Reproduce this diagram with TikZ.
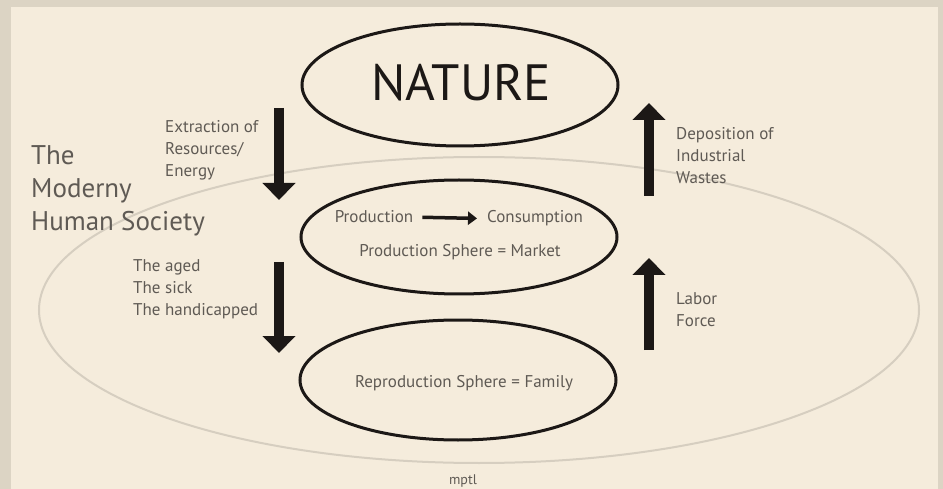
\documentclass[tikz,border=0pt]{standalone}
\usepackage{fontspec}
\setmainfont{PT Sans}
\usepackage{xcolor}
\usetikzlibrary{positioning, arrows.meta, shapes}

\definecolor{frame}{RGB}{220,212,196}
\definecolor{paper}{RGB}{245,236,220}
\definecolor{ink}{RGB}{28,24,22}
\definecolor{grey}{RGB}{95,90,84}
\definecolor{rim}{RGB}{214,206,192}

\begin{document}
\begin{tikzpicture}[x=1pt, y=-1pt,
    sphere/.style={draw=ink, line width=3pt, ellipse, inner sep=0pt, minimum width=316pt},
    lbl/.style={text=grey, inner sep=0pt, align=left, anchor=north west, font=\fontsize{17}{22}\selectfont},
    txt/.style={text=grey, inner sep=0pt, anchor=base, font=\fontsize{17}{20}\selectfont},
    flow/.style={draw=ink, line width=10pt, -{Triangle[length=17pt, width=32pt]}}]
    % Background
    \fill[frame] (0,0) rectangle (943,489);
    \fill[paper] (11,7) rectangle (938,489);
    \useasboundingbox (0,0) rectangle (943,489);

    % Society ring
    \node[draw=rim, line width=2pt, ellipse, minimum width=880pt, minimum height=306pt] (society) at (479,310) {};

    % Spheres
    \node[sphere, minimum height=122pt] (nature) at (460,85) {};
    \node[sphere, minimum height=114pt] (market) at (459,237) {};
    \node[sphere, minimum height=120pt] (family) at (458,380) {};

    \node[text=ink, inner sep=0pt, anchor=base, font=\fontsize{51}{54}\selectfont] (naturetext) at (461,101) {NATURE};
    \node[txt] (prod) at (374,223) {Production};
    \node[txt] (cons) at (535,223) {Consumption};
    \node[txt] (marketsphere) at (460,257) {Production Sphere = Market};
    \node[txt] (familysphere) at (464,387) {Reproduction Sphere = Family};
    \draw[ink, line width=3.5pt, -{Triangle[length=9pt, width=13pt]}, shorten <=9pt, shorten >=10pt] (prod.east) -- (cons.west);

    % Side labels
    \node[lbl] (extract) at (165,120) {Extraction of\\Resources/\\Energy};
    \node[lbl] (deposit) at (676,127) {Deposition of\\Industrial\\Wastes};
    \node[lbl] (needy) at (133,259) {The aged\\The sick\\The handicapped};
    \node[lbl] (labor) at (676,292) {Labor\\Force};
    \node[text=grey, inner sep=0pt, align=left, anchor=north west, font=\fontsize{27}{33}\selectfont] (modern) at (31,145) {The\\Moderny\\Human Society};
    \node[text=grey, inner sep=0pt, anchor=base, font=\fontsize{14}{16}\selectfont] (credit) at (463,484) {mptl};

    % Flows
    \coordinate (extTop) at (279,108);
    \coordinate (extTip) at (279,200);
    \coordinate (careTop) at (279,262);
    \coordinate (careTip) at (279,353);
    \coordinate (wasteTail) at (649,196);
    \coordinate (wasteTip) at (649,103);
    \coordinate (laborTail) at (649,350);
    \coordinate (laborTip) at (649,258);
    \draw[flow] (extTop) -- (extTip);
    \draw[flow] (careTop) -- (careTip);
    \draw[flow] (wasteTail) -- (wasteTip);
    \draw[flow] (laborTail) -- (laborTip);
\end{tikzpicture}
\end{document}
